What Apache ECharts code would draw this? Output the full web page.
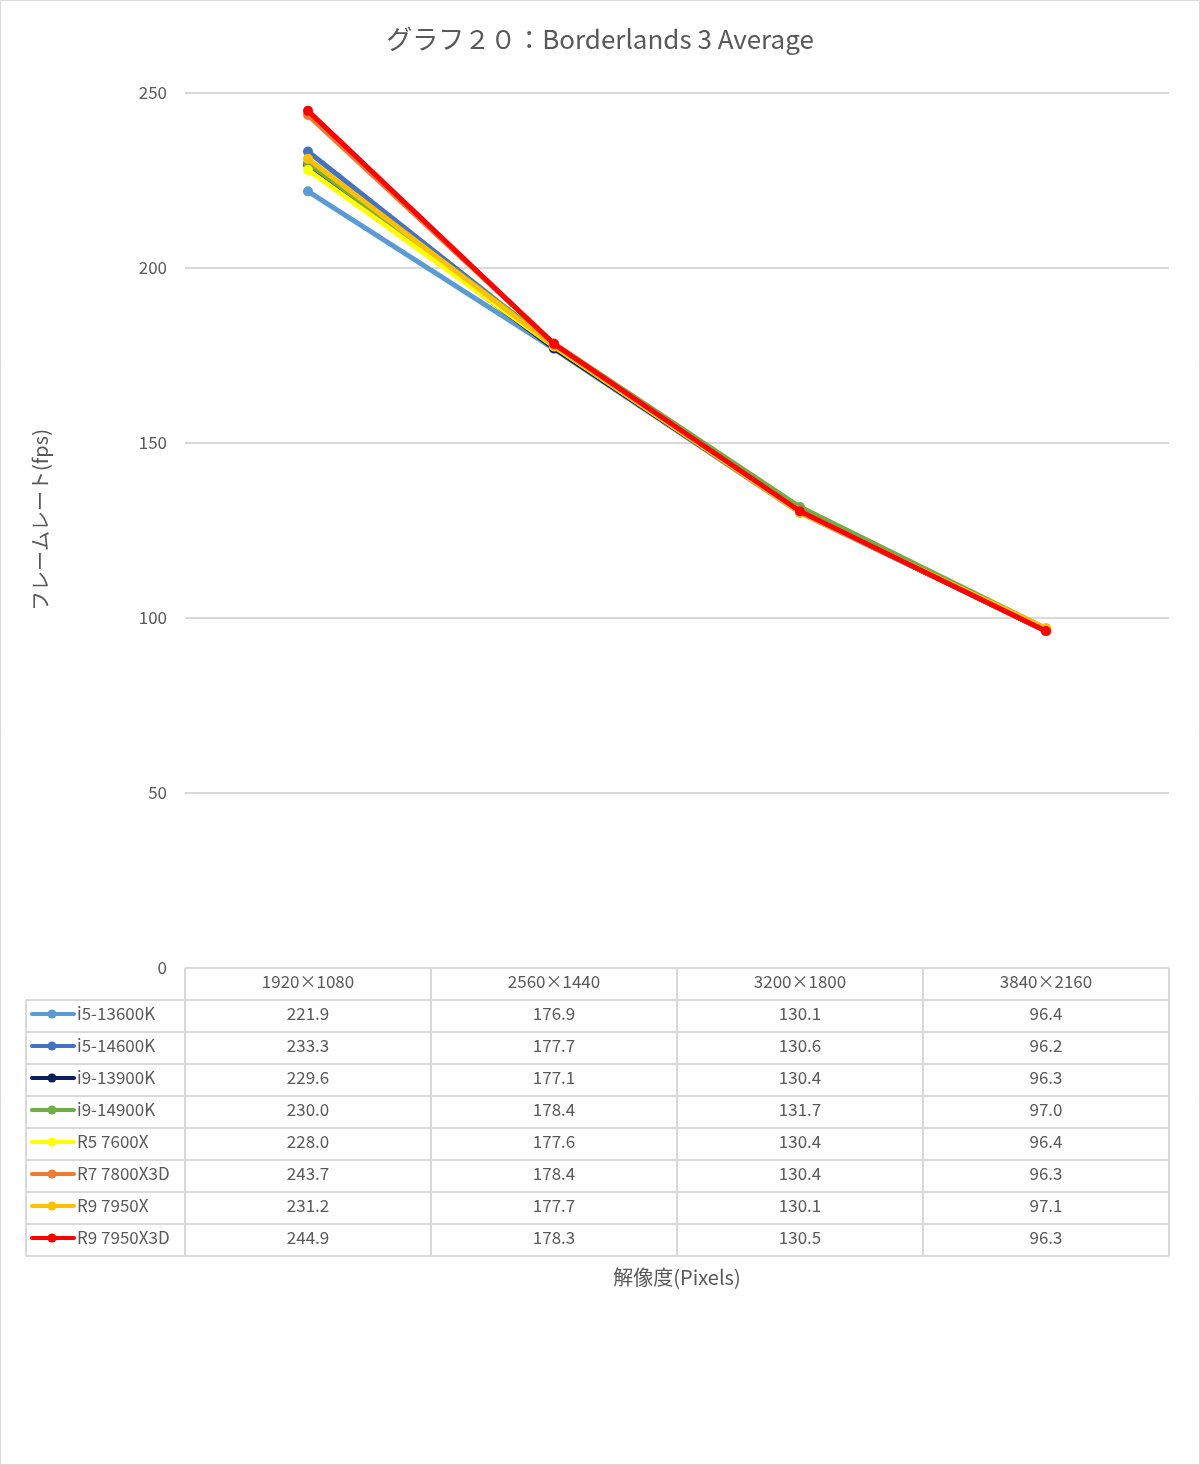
<!DOCTYPE html>
<html>
<head>
    <meta charset="utf-8">
    <title>Borderlands 3 Average</title>
    <script src="https://cdn.jsdelivr.net/npm/echarts@6/dist/echarts.min.js"></script>
    <style>
        html, body { margin: 0; padding: 0; background: #fff; }
        #mychat { width: 1200px; height: 1465px; }
    </style>
</head>
<body>
<div id="mychat"></div>
<script>
    // データ
    var resolutions = ['1920×1080', '2560×1440', '3200×1800', '3840×2160'];
    var cpuNames = ['i5-13600K', 'i5-14600K', 'i9-13900K', 'i9-14900K', 'R5 7600X', 'R7 7800X3D', 'R9 7950X', 'R9 7950X3D'];
    var cpuColors = ['#5b9bd5', '#4472c4', '#0d1f5c', '#70ad47', '#ffff00', '#ed7d31', '#ffc000', '#ff0000'];
    var i5_13600K = [221.9, 176.9, 130.1, 96.4];
    var i5_14600K = [233.3, 177.7, 130.6, 96.2];
    var i9_13900K = [229.6, 177.1, 130.4, 96.3];
    var i9_14900K = [230.0, 178.4, 131.7, 97.0];
    var r5_7600X = [228.0, 177.6, 130.4, 96.4];
    var r7_7800X3D = [243.7, 178.4, 130.4, 96.3];
    var r9_7950X = [231.2, 177.7, 130.1, 97.1];
    var r9_7950X3D = [244.9, 178.3, 130.5, 96.3];
    var fpsData = [i5_13600K, i5_14600K, i9_13900K, i9_14900K, r5_7600X, r7_7800X3D, r9_7950X, r9_7950X3D];

    var font = '"Noto Sans CJK JP", "Noto Sans", sans-serif';
    var textColor = '#595959';
    var lineGray = '#d9d9d9';

    // 表の位置
    var plotLeft = 185, plotRight = 1169, tableTop = 968, headH = 32, rowH = 32, legendLeft = 26;
    var colW = (plotRight - plotLeft) / resolutions.length;

    var series = [];
    for (var i = 0; i < cpuNames.length; i++) {
        series.push({
            name: cpuNames[i],
            type: 'line',
            data: fpsData[i],
            symbol: 'circle',
            symbolSize: 10,
            z: 2 + i,
            lineStyle: { width: 5, color: cpuColors[i] },
            itemStyle: { color: cpuColors[i] }
        });
    }

    var graphics = [];
    // 外枠
    graphics.push({ type: 'rect', shape: { x: 0.5, y: 0.5, width: 1199, height: 1464 },
        style: { fill: 'none', stroke: '#d9d9d9', lineWidth: 1 }, silent: true });

    var nRows = cpuNames.length;
    var tableBottom = tableTop + headH + rowH * nRows;
    // 縦線
    for (var c = 0; c <= resolutions.length; c++) {
        var x = plotLeft + c * colW;
        graphics.push({ type: 'line', shape: { x1: x, y1: tableTop, x2: x, y2: tableBottom },
            style: { stroke: lineGray, lineWidth: 2 } });
    }
    graphics.push({ type: 'line', shape: { x1: legendLeft, y1: tableTop + headH, x2: legendLeft, y2: tableBottom },
        style: { stroke: lineGray, lineWidth: 2 } });
    // 横線
    graphics.push({ type: 'line', shape: { x1: plotLeft, y1: tableTop, x2: plotRight, y2: tableTop },
        style: { stroke: lineGray, lineWidth: 2 } });
    for (var r = 0; r <= nRows; r++) {
        var y = tableTop + headH + r * rowH;
        graphics.push({ type: 'line', shape: { x1: legendLeft, y1: y, x2: plotRight, y2: y },
            style: { stroke: lineGray, lineWidth: 2 } });
    }
    // ヘッダー
    for (var c = 0; c < resolutions.length; c++) {
        graphics.push({ type: 'text', x: plotLeft + (c + 0.5) * colW, y: tableTop + headH / 2 - 2,
            style: { text: resolutions[c], fill: textColor, font: '17px ' + font, align: 'center', verticalAlign: 'middle' } });
    }
    // 行
    for (var r = 0; r < nRows; r++) {
        var cy = tableTop + headH + (r + 0.5) * rowH;
        graphics.push({ type: 'line', shape: { x1: 32, y1: cy - 2, x2: 74, y2: cy - 2 },
            style: { stroke: cpuColors[r], lineWidth: 4, lineCap: 'round' } });
        graphics.push({ type: 'circle', shape: { cx: 52, cy: cy - 2, r: 4.5 }, style: { fill: cpuColors[r] } });
        graphics.push({ type: 'text', x: 77, y: cy - 2,
            style: { text: cpuNames[r], fill: textColor, font: '17px ' + font, align: 'left', verticalAlign: 'middle' } });
        for (var c = 0; c < resolutions.length; c++) {
            graphics.push({ type: 'text', x: plotLeft + (c + 0.5) * colW, y: cy - 2,
                style: { text: fpsData[r][c].toFixed(1), fill: textColor, font: '17px ' + font, align: 'center', verticalAlign: 'middle' } });
        }
    }
    // 軸タイトル
    graphics.push({ type: 'text', x: (plotLeft + plotRight) / 2, y: tableBottom + 21,
        style: { text: '解像度(Pixels)', fill: textColor, font: '20px ' + font, align: 'center', verticalAlign: 'middle' } });
    graphics.push({ type: 'text', x: 40, y: 520, rotation: Math.PI / 2,
        style: { text: 'フレームレート(fps)', fill: textColor, font: '20px ' + font, align: 'center', verticalAlign: 'middle' } });

    var myChart = echarts.init(document.getElementById('mychat'));
    var option = {
        backgroundColor: '#fff',
        animation: false,
        title: {
            text: 'グラフ２０：Borderlands 3 Average',
            left: 'center',
            top: 21,
            textStyle: { fontFamily: font, fontSize: 26, fontWeight: 'normal', color: textColor }
        },
        grid: {
            left: plotLeft,
            right: 1200 - plotRight,
            top: 93,
            bottom: 1465 - tableTop
        },
        xAxis: {
            type: 'category',
            data: resolutions,
            boundaryGap: true,
            axisLine: { show: false },
            axisTick: { show: false },
            axisLabel: { show: false }
        },
        yAxis: {
            type: 'value',
            min: 0,
            max: 250,
            interval: 50,
            axisLine: { show: false },
            axisTick: { show: false },
            axisLabel: { color: textColor, fontSize: 17, fontFamily: font, margin: 18 },
            splitLine: { lineStyle: { color: lineGray, width: 2 } }
        },
        series: series,
        graphic: graphics
    };
    myChart.setOption(option);
</script>
</body>
</html>
